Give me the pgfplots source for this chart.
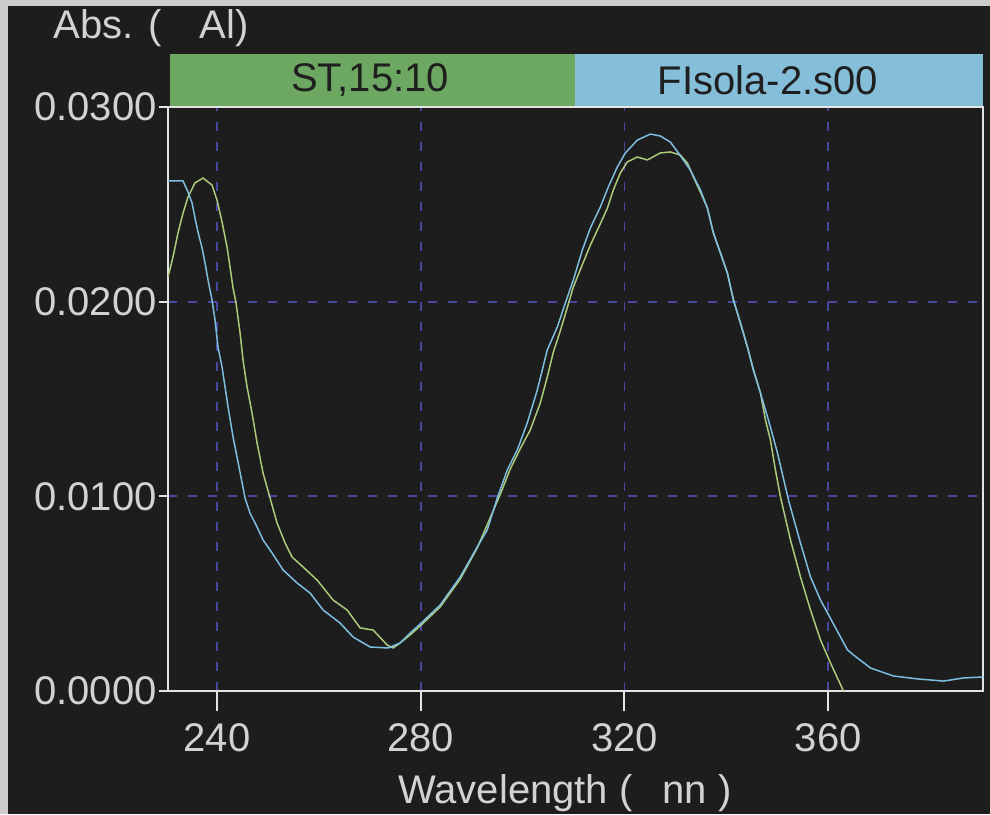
\documentclass[border=0pt]{standalone}
\usepackage{fontspec}
\setmainfont{Liberation Sans}
\usepackage{pgfplots}
\usepackage{pgfplotstable}
\pgfplotsset{compat=1.18}

\definecolor{bgdark}{RGB}{29,29,29}
\definecolor{framegray}{RGB}{205,205,205}
\definecolor{gridblue}{RGB}{72,72,160}
\definecolor{axiswhite}{RGB}{228,228,228}
\definecolor{labelgray}{RGB}{210,210,210}
\definecolor{legendgreen}{RGB}{108,168,98}
\definecolor{legendblue}{RGB}{132,190,216}
\definecolor{curvegreen}{RGB}{172,202,122}
\definecolor{curveblue}{RGB}{125,190,225}

% Spectrum ST,15:10
\pgfplotstableread{
wl abs
230.40 0.02127
231.38 0.02229
232.36 0.02353
233.35 0.02455
234.33 0.02538
235.70 0.02610
237.28 0.02635
239.04 0.02599
240.03 0.02522
241.01 0.02409
241.99 0.02281
242.58 0.02178
243.17 0.02070
243.76 0.01993
244.55 0.01839
245.13 0.01700
245.92 0.01562
246.90 0.01428
247.89 0.01274
249.06 0.01120
250.44 0.00991
251.81 0.00863
253.39 0.00760
254.76 0.00688
256.92 0.00637
259.67 0.00570
262.82 0.00467
265.57 0.00416
268.12 0.00324
270.68 0.00313
273.43 0.00236
274.60 0.00221
275.98 0.00247
277.94 0.00288
279.91 0.00334
283.84 0.00432
287.77 0.00575
291.11 0.00735
293.66 0.00890
295.63 0.01010
297.59 0.01140
299.56 0.01245
301.52 0.01341
303.48 0.01479
304.86 0.01613
306.04 0.01740
307.41 0.01850
308.79 0.01970
309.97 0.02075
311.74 0.02190
313.31 0.02290
315.27 0.02400
316.65 0.02480
317.83 0.02574
319.20 0.02661
320.58 0.02718
322.54 0.02743
324.51 0.02728
327.06 0.02764
329.02 0.02769
330.99 0.02753
332.37 0.02712
333.54 0.02640
334.92 0.02563
336.29 0.02481
337.47 0.02353
338.85 0.02250
340.22 0.02147
341.40 0.02009
342.78 0.01890
344.15 0.01767
345.33 0.01649
346.71 0.01531
347.69 0.01392
348.67 0.01289
349.65 0.01135
350.64 0.00997
352.60 0.00776
354.57 0.00586
356.53 0.00416
358.50 0.00262
360.46 0.00144
361.64 0.00077
363.01 0.00000
}\specST

% Spectrum FIsola-2.s00
\pgfplotstableread{
wl abs
230.40 0.02620
233.35 0.02620
234.33 0.02563
235.12 0.02507
235.70 0.02430
236.29 0.02358
237.08 0.02276
237.67 0.02199
238.26 0.02111
239.04 0.02009
239.63 0.01906
240.22 0.01767
241.01 0.01664
241.60 0.01562
242.19 0.01459
243.17 0.01305
244.15 0.01176
245.53 0.00991
246.51 0.00914
247.89 0.00842
249.06 0.00776
250.83 0.00709
252.99 0.00622
255.74 0.00555
258.30 0.00503
260.85 0.00416
264.19 0.00349
266.75 0.00277
270.09 0.00226
273.62 0.00221
275.98 0.00247
277.94 0.00298
279.91 0.00344
283.84 0.00442
287.77 0.00586
291.11 0.00740
293.07 0.00827
295.04 0.00991
297.00 0.01135
298.97 0.01238
300.93 0.01377
302.90 0.01546
304.86 0.01752
306.83 0.01870
308.40 0.01993
309.97 0.02111
311.74 0.02265
313.31 0.02378
315.27 0.02486
316.84 0.02589
318.61 0.02692
320.18 0.02764
322.54 0.02830
325.09 0.02861
327.06 0.02851
329.02 0.02820
330.60 0.02764
332.95 0.02676
334.92 0.02574
336.29 0.02481
337.47 0.02353
338.85 0.02250
340.22 0.02147
341.40 0.02009
342.78 0.01890
344.15 0.01767
345.33 0.01649
346.71 0.01531
348.28 0.01392
350.05 0.01223
352.21 0.00981
354.57 0.00760
356.53 0.00586
358.50 0.00467
359.87 0.00401
362.43 0.00277
363.80 0.00211
364.98 0.00185
368.32 0.00118
372.84 0.00077
377.56 0.00062
382.66 0.00051
386.59 0.00067
390.40 0.00072
}\specFI

\begin{document}
\begin{tikzpicture}[x=0.5pt,y=0.5pt,font=\fontsize{20}{24}\selectfont]
\useasboundingbox (0,0) rectangle (990,814);
% screen frame and dark background
\fill[framegray] (0,0) rectangle (990,814);
\fill[bgdark] (8,0) rectangle (990,808);
% sample strip above the plot
\fill[legendgreen] (170,707) rectangle (575,760);
\fill[legendblue] (575,707) rectangle (983,760);
\node[text=black!88, inner sep=0pt] at (370,734) {ST,15:10};
\node[text=black!88, inner sep=0pt] at (768,734) {FIsola-2.s00};
% axis titles
\node[text=labelgray, anchor=west, inner sep=0pt] at (53,786) {Abs. (\hspace{19pt}Al)};
\node[text=labelgray, anchor=west, inner sep=0pt] at (398,21) {Wavelength (\hspace{15pt}nn )};

\begin{axis}[
  at={(84pt,61.5pt)}, anchor=south west,
  scale only axis, width=407.5pt, height=292pt,
  xmin=230.4, xmax=390.4, ymin=0, ymax=0.03,
  xtick={240,280,320,360},
  ytick={0,0.01,0.02,0.03},
  yticklabels={0.0000,0.0100,0.0200,0.0300},
  scaled y ticks=false,
  /pgf/number format/assume math mode=true,
  major tick length=0pt,
  tick style={draw=none},
  ticklabel style={text=labelgray, inner sep=0pt, font=\fontsize{20}{24}\selectfont},
  xticklabel style={anchor=north, yshift=-16pt},
  yticklabel style={anchor=east, xshift=-5.5pt},
  grid=major,
  major grid style={gridblue, dash pattern=on 4.5pt off 5.5pt, line width=0.9pt},
  axis line style={axiswhite, line width=1pt},
  clip mode=individual,
]
\addplot[curvegreen, line width=0.75pt, no marks] table[x=wl, y=abs] {\specST};
\addplot[curveblue, line width=0.75pt, no marks] table[x=wl, y=abs] {\specFI};
% outward tick marks
\pgfplotsinvokeforeach{240,280,320,360}{
  \draw[axiswhite, line width=1pt] (axis cs:#1,0) -- ++(0pt,-10pt);
}
\pgfplotsinvokeforeach{0,0.01,0.02,0.03}{
  \draw[axiswhite, line width=1pt] (axis cs:230.4,#1) -- ++(-4.5pt,0pt);
}
\end{axis}
\end{tikzpicture}
\end{document}
